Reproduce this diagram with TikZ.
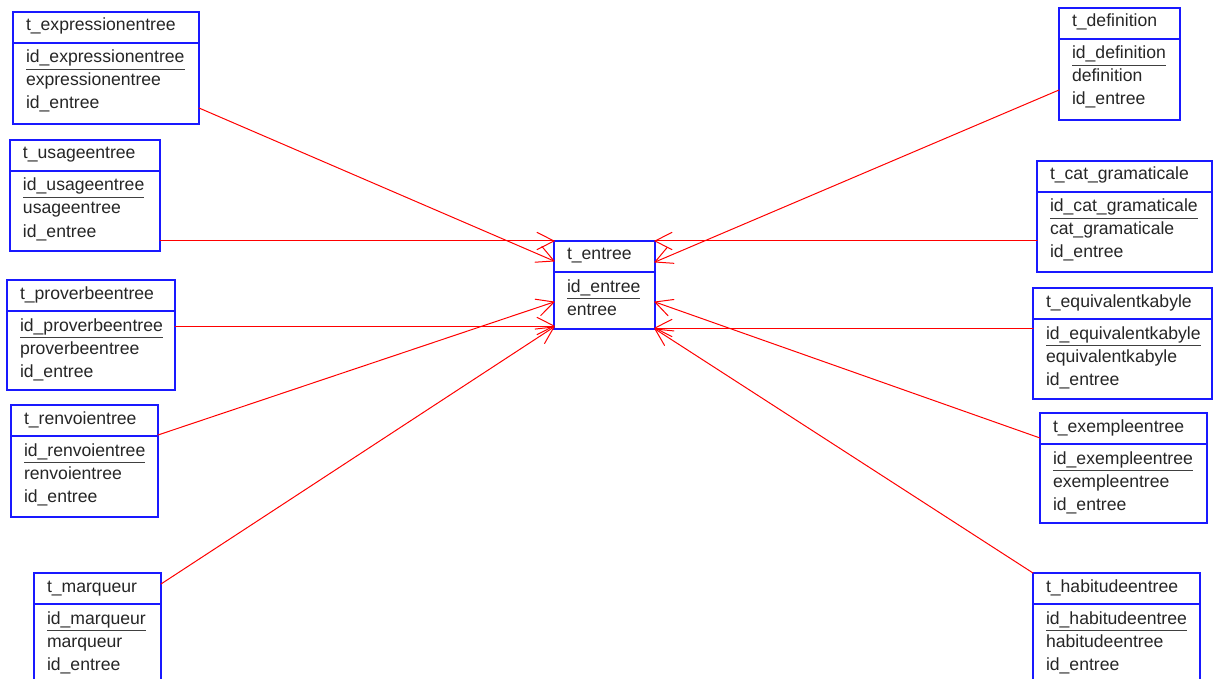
\documentclass[tikz,border=0pt]{standalone}
\usepackage{fontspec}
\setmainfont{Liberation Sans}
\usetikzlibrary{calc}
\tikzset{
  tbox/.style={draw=blue!90!white, line width=1.5pt, inner sep=0pt, outer sep=0pt, anchor=north west},
  tsep/.style={draw=blue!90!white, line width=1.5pt},
  ttext/.style={inner sep=0pt, outer sep=0pt, anchor=base west, text=black!85, font=\fontsize{17.6}{20}\selectfont},
  uline/.style={draw=black!75, line width=1.3pt},
  rel/.style={draw=red, line width=1pt, line cap=round, line join=round}
}
% #1 name, #2 x0, #3 y0, #4 x1, #5 y1, #6 title, #7 id, #8 attr2, #9 attr3
\newcommand\enttable[9]{%
  \node[tbox, minimum width={(#4-#2)*1pt}, minimum height={(#5-#3)*1pt}] (#1) at (#2,#3) {};
  \draw[tsep] ($(#1.north west)+(0,31)$) -- ($(#1.north east)+(0,31)$);
  \node[ttext] (#1t) at ($(#1.north west)+(13,19)$) {#6};
  \node[ttext] (#1i) at ($(#1.north west)+(13,51)$) {#7};
  \draw[uline] ($(#1i.base west)+(0,6.5)$) -- ($(#1i.base east)+(0,6.5)$);
  \node[ttext] (#1a) at ($(#1.north west)+(13,74)$) {#8};
  \node[ttext] (#1b) at ($(#1.north west)+(13,97)$) {#9};
}
% relation line from #1 to #2 with an open V head at #2
\newcommand\relline[2]{%
  \draw[rel] (#1) -- (#2);
  \draw[rel] ($(#2)!19pt!27:(#1)$) -- (#2) -- ($(#2)!19pt!-27:(#1)$);
}
\begin{document}
\begin{tikzpicture}[x=1pt,y=-1pt]
\useasboundingbox (0,0) rectangle (1213,679);
\clip (0,0) rectangle (1213,679);
\fill[white] (0,0) rectangle (1213,679);

% central table
\node[tbox, minimum width=101pt, minimum height=88pt] (entree) at (554,241) {};
\draw[tsep] ($(entree.north west)+(0,31)$) -- ($(entree.north east)+(0,31)$);
\node[ttext] (entreet) at ($(entree.north west)+(13,19)$) {t\_entree};
\node[ttext] (entreei) at ($(entree.north west)+(13,51)$) {id\_entree};
\draw[uline] ($(entreei.base west)+(0,6.5)$) -- ($(entreei.base east)+(0,6.5)$);
\node[ttext] (entreea) at ($(entree.north west)+(13,74)$) {entree};

% left tables
\enttable{expr}{13}{12}{199}{124}{t\_expressionentree}{id\_expressionentree}{expressionentree}{id\_entree}
\enttable{usage}{10}{140}{160}{251}{t\_usageentree}{id\_usageentree}{usageentree}{id\_entree}
\enttable{prov}{7}{280}{175}{390}{t\_proverbeentree}{id\_proverbeentree}{proverbeentree}{id\_entree}
\enttable{renv}{11}{405}{158}{517}{t\_renvoientree}{id\_renvoientree}{renvoientree}{id\_entree}
\enttable{marq}{34}{573}{161}{685}{t\_marqueur}{id\_marqueur}{marqueur}{id\_entree}

% right tables
\enttable{defi}{1059}{8}{1180}{120}{t\_definition}{id\_definition}{definition}{id\_entree}
\enttable{cat}{1037}{161}{1212}{272}{t\_cat\_gramaticale}{id\_cat\_gramaticale}{cat\_gramaticale}{id\_entree}
\enttable{equi}{1033}{288}{1212}{399}{t\_equivalentkabyle}{id\_equivalentkabyle}{equivalentkabyle}{id\_entree}
\enttable{exem}{1040}{413}{1207}{523}{t\_exempleentree}{id\_exempleentree}{exempleentree}{id\_entree}
\enttable{habi}{1033}{573}{1200}{685}{t\_habitudeentree}{id\_habitudeentree}{habitudeentree}{id\_entree}

% connector end points on the table borders
\coordinate (expr-o) at ($(expr.north east)+(0,96)$);
\coordinate (expr-e) at ($(entree.north west)+(0,20)$);
\coordinate (usage-o) at ($(usage.north east)+(0,101)$);
\coordinate (usage-e) at (entree.north west);
\coordinate (prov-o) at ($(prov.north east)+(0,46)$);
\coordinate (prov-e) at ($(entree.north west)+(0,85)$);
\coordinate (renv-o) at ($(renv.north east)+(0,30)$);
\coordinate (renv-e) at ($(entree.north west)+(0,61)$);
\coordinate (marq-o) at ($(marq.north east)+(0,11)$);
\coordinate (marq-e) at ($(entree.north west)+(0,86)$);
\coordinate (defi-o) at ($(defi.north west)+(0,82)$);
\coordinate (defi-e) at ($(entree.north east)+(0,21)$);
\coordinate (cat-o) at ($(cat.north west)+(0,80)$);
\coordinate (cat-e) at (entree.north east);
\coordinate (equi-o) at ($(equi.north west)+(0,40)$);
\coordinate (equi-e) at ($(entree.north east)+(0,87)$);
\coordinate (exem-o) at ($(exem.north west)+(0,25)$);
\coordinate (exem-e) at ($(entree.north east)+(0,61)$);
\coordinate (habi-o) at (habi.north west);
\coordinate (habi-e) at ($(entree.north east)+(0,88)$);

% relations
\relline{expr-o}{expr-e}
\relline{usage-o}{usage-e}
\relline{prov-o}{prov-e}
\relline{renv-o}{renv-e}
\relline{marq-o}{marq-e}
\relline{defi-o}{defi-e}
\relline{cat-o}{cat-e}
\relline{equi-o}{equi-e}
\relline{exem-o}{exem-e}
\relline{habi-o}{habi-e}
\end{tikzpicture}
\end{document}
